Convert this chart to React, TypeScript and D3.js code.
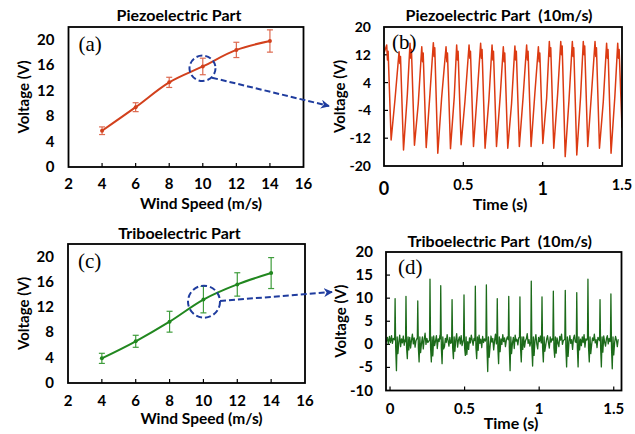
import React from "react";
import * as d3 from "d3";

// ---------- data: wind speed sweep ----------
const windSpeeds = [4, 6, 8, 10, 12, 14];
const piezoVoltage = [5.7, 9.4, 13.3, 15.8, 18.4, 19.8];
const piezoError = [0.6, 0.7, 0.8, 1.3, 1.2, 1.75];
const triboVoltage = [3.9, 6.6, 9.7, 13.2, 15.6, 17.4];
const triboError = [0.8, 0.95, 1.65, 2.1, 1.85, 2.45];

const windTicks = [2, 4, 6, 8, 10, 12, 14, 16];
const speedVoltTicks = [0, 4, 8, 12, 16, 20];
const piezoTimeTicks = [0, 0.5, 1, 1.5];
const piezoVoltTicks = [-20, -12, -4, 4, 12, 20];
const triboTimeTicks = [0, 0.5, 1, 1.5];
const triboVoltTicks = [-10, -5, 0, 5, 10, 15, 20];

// ---------- data: piezoelectric waveform at 10 m/s (read per cycle) ----------
const piezoStart = [0, 12.5];
const piezoEnd = [1.5, -9];
const piezoPeakT = [0.017, 0.095, 0.164, 0.238, 0.311, 0.391, 0.458, 0.536, 0.609, 0.681, 0.752, 0.825, 0.899, 0.973, 1.042, 1.114, 1.187, 1.256, 1.33, 1.403, 1.473];
const piezoPeakV = [14.8, 12.9, 15.3, 14.3, 15.5, 14.3, 14.8, 14.8, 15.3, 14.8, 14.3, 14.5, 14.8, 14.3, 15.8, 15.8, 15.8, 15.8, 15.8, 15.3, 15.3];
const piezoNotchT = [0.022, 0.1, 0.169, 0.243, 0.316, 0.396, 0.463, 0.541, 0.614, 0.686, 0.757, 0.83, 0.904, 0.978, 1.047, 1.119, 1.192, 1.261, 1.335, 1.408, 1.478];
const piezoNotchV = [10.5, 9.5, 11, 10, 11.5, 10, 10.5, 11, 11, 10.5, 10, 10.5, 10.5, 10, 11.5, 12, 11.5, 12, 11.5, 11, 11];
const piezoShoulderT = [0.026, 0.104, 0.173, 0.247, 0.32, 0.4, 0.467, 0.545, 0.618, 0.69, 0.761, 0.834, 0.908, 0.982, 1.051, 1.123, 1.196, 1.265, 1.339, 1.412, 1.482];
const piezoShoulderV = [13, 11.5, 13.5, 12.5, 14, 12.5, 13, 13, 13.5, 13, 12.5, 13, 13, 12.5, 14, 14.5, 14, 14.5, 14, 13.5, 13.5];
const piezoTroughT = [0.045, 0.123, 0.192, 0.266, 0.339, 0.419, 0.486, 0.564, 0.637, 0.709, 0.78, 0.853, 0.927, 1.001, 1.07, 1.142, 1.215, 1.284, 1.358, 1.431];
const piezoTroughV = [-12.5, -15.4, -14.0, -14.7, -16.3, -15.0, -13.9, -14.4, -14.9, -14.4, -14.9, -14.4, -14.4, -13.5, -14.9, -17.3, -16.8, -14.4, -14.9, -16.3];
const piezoKneeT = [0.069, 0.147, 0.216, 0.29, 0.363, 0.443, 0.51, 0.588, 0.661, 0.733, 0.804, 0.877, 0.951, 1.025, 1.094, 1.166, 1.239, 1.308, 1.382, 1.455];
const piezoKneeV = [-1, 0.5, -2, 1, -0.5, 0, -1.5, 1, -1, 0.5, -2, 0, 1, -0.5, 0.5, -1, 0, 1, -1.5, 0];

// ---------- data: triboelectric waveform at 10 m/s (read per spike) ----------
const triboLeadIn = [[-0.025, 0.5], [-0.018, 1.5], [-0.011, 0.1], [-0.004, 1.7], [0.003, 0.4], [0.01, 1.9], [0.016, 0.2], [0.022, 1.3]];
const triboSpikeT = [0.034, 0.107, 0.186, 0.268, 0.34, 0.416, 0.496, 0.572, 0.646, 0.719, 0.796, 0.871, 0.947, 1.019, 1.095, 1.175, 1.252, 1.327, 1.408, 1.481];
const triboSpikeV = [9.9, 10.4, 9.4, 14.1, 12.7, 9.7, 10.7, 12.6, 12.9, 9.9, 10.4, 10.3, 13.7, 10.3, 11.5, 11.7, 11.2, 14.1, 9.7, 10.9];
const triboPreV = [1.0, 0.6, 1.4, 0.9, 1.2, 0.5, 1.1, 0.8, 1.3, 0.7, 1.0, 1.5, 0.6, 1.2, 0.9, 1.1, 0.4, 1.3, 0.8, 1.0];
const triboDipV = [-5.7, -3.1, -3.8, -3.8, -4.2, -3.1, -2.4, -3.1, -5.9, -4.2, -5.7, -3.8, -4.7, -3.8, -2.8, -4.9, -4.9, -3.8, -4.9, -5.3];
const triboDip2V = [-2.0, -1.2, -1.8, -2.5, -1.0, -1.5, -2.2, -1.3, -2.8, -1.6, -2.0, -1.1, -2.4, -1.5, -1.9, -2.6, -1.2, -2.0, -1.7, -2.3];
const triboNoiseOffsets = [0.025, 0.031, 0.037, 0.043, 0.049, 0.055, 0.061, 0.067];
const triboNoise = [
  [0.5, 2.0, -0.5, 1.2, 0.3, 1.8, -0.2, 1.0],
  [1.5, -0.8, 0.9, 2.2, 0.1, 1.4, -0.6, 0.8],
  [0.2, 1.6, -1.0, 1.1, 2.4, 0.0, 1.3, 0.4],
  [1.8, -0.3, 0.7, 1.9, -0.9, 1.2, 0.6, 2.0],
  [-0.5, 1.3, 0.4, 2.1, 0.8, -0.4, 1.5, 0.2],
  [1.0, 2.3, -0.6, 0.9, 1.6, 0.1, 1.9, -0.3],
  [0.6, -1.1, 1.4, 0.3, 2.0, 0.9, -0.2, 1.3],
  [2.0, 0.2, 1.1, -0.7, 1.7, 0.4, 1.2, 0.7],
  [-0.4, 1.8, 0.5, 1.3, -1.2, 0.8, 2.2, 0.1],
  [1.2, 0.0, 2.1, 0.6, 1.4, -0.5, 0.9, 1.6],
  [0.3, 1.5, -0.9, 2.0, 0.7, 1.1, -0.1, 1.4],
  [1.6, -0.6, 0.8, 1.2, 2.3, 0.2, 1.0, -0.4],
  [0.9, 2.1, 0.1, -1.0, 1.5, 0.6, 1.8, 0.3],
  [-0.2, 1.1, 1.9, 0.4, -0.8, 1.6, 0.5, 1.2],
  [1.4, 0.3, -0.5, 1.7, 0.9, 2.2, 0.0, 0.8],
  [0.7, 1.9, 0.2, 1.0, -1.1, 1.3, 2.0, 0.5],
  [1.1, -0.3, 1.6, 0.4, 2.1, -0.6, 1.2, 0.9],
  [0.0, 1.4, 0.8, 2.2, 0.3, 1.0, -0.7, 1.5],
  [1.8, 0.5, -0.4, 1.2, 1.9, 0.1, 1.3, 0.6],
  [0.4, 1.7, 0.9, -0.5, 1.1, 2.0, 0.3, 1.0],
];
const triboEndT = 1.53;

// ---------- build point tables ----------
function piezoPoints(): [number, number][] {
  const pts: [number, number][] = [[piezoStart[0], piezoStart[1]]];
  piezoPeakT.forEach((t, i) => {
    pts.push([t, piezoPeakV[i]]);
    pts.push([piezoNotchT[i], piezoNotchV[i]]);
    pts.push([piezoShoulderT[i], piezoShoulderV[i]]);
    if (i < piezoTroughT.length) {
      pts.push([piezoTroughT[i], piezoTroughV[i]]);
      pts.push([piezoKneeT[i], piezoKneeV[i]]);
    }
  });
  pts.push([piezoEnd[0], piezoEnd[1]]);
  return pts;
}

function triboPoints(): [number, number][] {
  const pts: [number, number][] = triboLeadIn.map((p) => [p[0], p[1]] as [number, number]);
  triboSpikeT.forEach((t, i) => {
    pts.push([t - 0.003, triboPreV[i]]);
    pts.push([t, triboSpikeV[i]]);
    pts.push([t + 0.004, -0.8]);
    pts.push([t + 0.009, triboDipV[i]]);
    pts.push([t + 0.014, 1.6]);
    pts.push([t + 0.019, triboDip2V[i]]);
    triboNoiseOffsets.forEach((o, k) => pts.push([t + o, triboNoise[i][k]]));
  });
  return pts.filter((p) => p[0] <= triboEndT);
}

const FONT = "Lato, 'Liberation Sans', Arial, sans-serif";
const SERIF = "'Liberation Serif', 'DejaVu Serif', serif";

type Frame = { x0: number; x1: number; y0: number; y1: number };

function SpeedPanel(props: {
  f: Frame; values: number[]; errors: number[]; color: string; errColor: string;
  title: string; titleY: number; label: string; labelY: number;
  tickY: number; xTitleY: number; yTitleX: number;
}) {
  const { f, values, errors, color, errColor } = props;
  const x = d3.scaleLinear().domain([2, 16]).range([f.x0, f.x1]);
  const y = d3.scaleLinear().domain([0, 22]).range([f.y1, f.y0]);
  const data = windSpeeds.map((s, i) => ({ s, v: values[i], e: errors[i] }));
  const line = d3.line<{ s: number; v: number }>()
    .x((d) => x(d.s)).y((d) => y(d.v))
    .curve(d3.curveCatmullRom.alpha(0.5));
  const cx = (f.x0 + f.x1) / 2;
  return (
    <g>
      <text x={cx - 7} y={props.titleY} textAnchor="middle" fontSize={16} fontWeight="bold">{props.title}</text>
      <rect x={f.x0} y={f.y0} width={f.x1 - f.x0} height={f.y1 - f.y0} fill="none" stroke="#000" strokeWidth={1.8} />
      {windTicks.filter((t) => t > 2 && t < 16).map((t) => (
        <line key={t} x1={x(t)} x2={x(t)} y1={f.y1} y2={f.y1 - 4} stroke="#000" strokeWidth={1.2} />
      ))}
      {windTicks.map((t) => (
        <text key={t} x={x(t)} y={props.tickY} textAnchor="middle" fontSize={15} fontWeight="bold">{t}</text>
      ))}
      {speedVoltTicks.map((t) => (
        <text key={t} x={f.x0 - 14} y={y(t) + 5} textAnchor="end" fontSize={15} fontWeight="bold">{t}</text>
      ))}
      <text x={cx + 15} y={props.xTitleY} textAnchor="middle" fontSize={15.5} fontWeight="bold">Wind Speed (m/s)</text>
      <text transform={`translate(${props.yTitleX},${(f.y0 + f.y1) / 2}) rotate(-90)`} textAnchor="middle" fontSize={15} fontWeight="bold">Voltage (V)</text>
      <text x={f.x0 + 10} y={props.labelY} fontSize={21} fontFamily={SERIF}>{props.label}</text>
      {data.map((d) => (
        <g key={d.s} stroke={errColor} strokeWidth={1.2}>
          <line x1={x(d.s)} x2={x(d.s)} y1={y(d.v - d.e)} y2={y(d.v + d.e)} />
          <line x1={x(d.s) - 3} x2={x(d.s) + 3} y1={y(d.v - d.e)} y2={y(d.v - d.e)} />
          <line x1={x(d.s) - 3} x2={x(d.s) + 3} y1={y(d.v + d.e)} y2={y(d.v + d.e)} />
        </g>
      ))}
      <path d={line(data) || ""} fill="none" stroke={color} strokeWidth={2} />
      {data.map((d) => (
        <circle key={d.s} cx={x(d.s)} cy={y(d.v)} r={2} fill={color} />
      ))}
    </g>
  );
}

function WavePanel(props: {
  f: Frame; xDomain: [number, number]; yDomain: [number, number];
  xTicks: number[]; yTicks: number[]; points: [number, number][];
  color: string; width: number; title: string; titleY: number; label: string; labelX: number; labelY: number;
  xTickSize: (t: number) => number; xTickY: (t: number) => number;
  yTickSize: number; xTitleY: number; xTitleX: number; yTitleX: number; id: string;
}) {
  const { f } = props;
  const x = d3.scaleLinear().domain(props.xDomain).range([f.x0, f.x1]);
  const y = d3.scaleLinear().domain(props.yDomain).range([f.y1, f.y0]);
  const line = d3.line<[number, number]>().x((d) => x(d[0])).y((d) => y(d[1]));
  const cx = (f.x0 + f.x1) / 2;
  return (
    <g>
      <defs>
        <clipPath id={props.id}>
          <rect x={f.x0} y={f.y0} width={f.x1 - f.x0} height={f.y1 - f.y0} />
        </clipPath>
      </defs>
      <text x={cx - 4} y={props.titleY} textAnchor="middle" fontSize={16} fontWeight="bold" style={{ whiteSpace: "pre" }}>{props.title}</text>
      {props.xTicks.filter((t) => x(t) > f.x0 + 3 && x(t) < f.x1 - 3).map((t) => (
        <line key={t} x1={x(t)} x2={x(t)} y1={f.y1} y2={f.y1 - 4} stroke="#000" strokeWidth={1.2} />
      ))}
      {props.yTicks.filter((t) => y(t) > f.y0 + 3 && y(t) < f.y1 - 3).map((t) => (
        <line key={t} x1={f.x0} x2={f.x0 + 4} y1={y(t)} y2={y(t)} stroke="#000" strokeWidth={1.2} />
      ))}
      {props.xTicks.map((t) => (
        <text key={t} x={x(t)} y={props.xTickY(t)} textAnchor="middle" fontSize={props.xTickSize(t)} fontWeight="bold">{t}</text>
      ))}
      {props.yTicks.map((t) => (
        <text key={t} x={f.x0 - 13} y={y(t) + 5} textAnchor="end" fontSize={props.yTickSize} fontWeight="bold">{t}</text>
      ))}
      <text x={props.xTitleX} y={props.xTitleY} textAnchor="middle" fontSize={16} fontWeight="bold">Time (s)</text>
      <text transform={`translate(${props.yTitleX},${(f.y0 + f.y1) / 2}) rotate(-90)`} textAnchor="middle" fontSize={15} fontWeight="bold">Voltage (V)</text>
      <path d={line(props.points) || ""} fill="none" stroke={props.color} strokeWidth={props.width} strokeLinejoin="round" clipPath={`url(#${props.id})`} />
      <text x={props.labelX} y={props.labelY} fontSize={21} fontFamily={SERIF}>{props.label}</text>
      <rect x={f.x0} y={f.y0} width={f.x1 - f.x0} height={f.y1 - f.y0} fill="none" stroke="#000" strokeWidth={1.8} />
    </g>
  );
}

export default function App() {
  const blue = "#1f3c9e";
  const fa: Frame = { x0: 68.5, x1: 303.5, y0: 27, y1: 167 };
  const fb: Frame = { x0: 384, x1: 622, y0: 27, y1: 166 };
  const fc: Frame = { x0: 68, x1: 305, y0: 244, y1: 383 };
  const fd: Frame = { x0: 386, x1: 621.5, y0: 252, y1: 390.5 };
  return (
    <svg width={635} height={434} style={{ position: "absolute", left: 0, top: 0, background: "#fff" }} fontFamily={FONT}>
      <defs>
        <marker id="arrowHead" viewBox="0 0 10 10" refX="9" refY="5" markerWidth="9" markerHeight="9" markerUnits="userSpaceOnUse" orient="auto">
          <path d="M0,0 L10,5 L0,10 L3,5 Z" fill={blue} />
        </marker>
      </defs>
      <SpeedPanel f={fa} values={piezoVoltage} errors={piezoError} color="#d2401c" errColor="#dd6a50"
        title="Piezoelectric Part" titleY={21} label="(a)" labelY={51} tickY={189} xTitleY={209} yTitleX={29} />
      <SpeedPanel f={fc} values={triboVoltage} errors={triboError} color="#21871f" errColor="#3f9d3c"
        title="Triboelectric Part" titleY={238.5} label="(c)" labelY={268} tickY={405.5} xTitleY={423.5} yTitleX={29} />
      <WavePanel id="clipB" f={fb} xDomain={[0, 1.5]} yDomain={[-20, 20]} xTicks={piezoTimeTicks} yTicks={piezoVoltTicks}
        points={piezoPoints()} color="#dc3a12" width={1.5} title="Piezoelectric Part  (10m/s)" titleY={21}
        label="(b)" labelX={392} labelY={49}
        xTickSize={(t) => (Number.isInteger(t) ? 18 : 14.5)} xTickY={(t) => (Number.isInteger(t) ? 194.5 : 190)}
        yTickSize={14} xTitleY={210} xTitleX={500} yTitleX={344.5} />
      <WavePanel id="clipD" f={fd} xDomain={[-0.027, 1.552]} yDomain={[-10, 20]} xTicks={triboTimeTicks} yTicks={triboVoltTicks}
        points={triboPoints()} color="#1c6b1a" width={1.3} title="Triboelectric Part  (10m/s)" titleY={246.5}
        label="(d)" labelX={398} labelY={274}
        xTickSize={() => 15} xTickY={() => 413.5}
        yTickSize={15} xTitleY={429} xTitleX={511} yTitleX={345.5} />
      <g fill="none" stroke={blue} strokeWidth={2} strokeDasharray="6 3">
        <ellipse cx={202.5} cy={68.3} rx={13} ry={12.7} />
        <line x1={212} y1={77.7} x2={329} y2={106} markerEnd="url(#arrowHead)" />
        <ellipse cx={204} cy={301.7} rx={16} ry={16} />
        <line x1={220} y1={301} x2={332} y2={292} markerEnd="url(#arrowHead)" />
      </g>
    </svg>
  );
}
